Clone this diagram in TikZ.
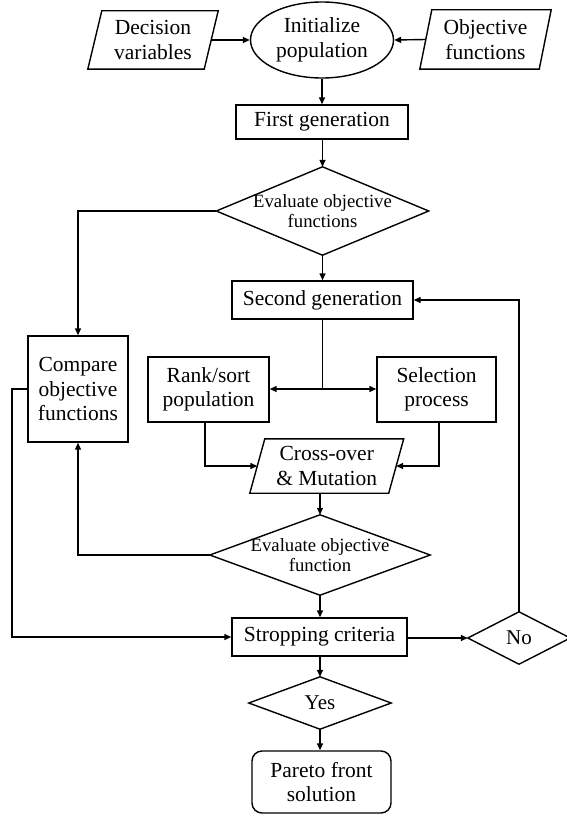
\documentclass[tikz,border=0pt]{standalone}
\usepackage{fontspec}
\setmainfont{Liberation Serif}
\usetikzlibrary{shapes.geometric,arrows.meta}
\tikzset{
  x=1pt,y=-1pt,
  line/.style={line width=1.4pt},
  arr/.style={line width=1.4pt,-{Triangle[length=7pt,width=6pt]}},
  boxtxt/.style={font=\fontsize{21.5}{24.5}\selectfont,align=center,inner sep=0pt},
  rectbox/.style={boxtxt,draw,line width=1.4pt,rectangle},
  plain/.style={boxtxt},
  diatxt/.style={font=\fontsize{18.7}{19.5}\selectfont,align=center,inner sep=0pt,rectangle},
  yntxt/.style={font=\fontsize{21}{22}\selectfont,align=center,inner sep=0pt,rectangle},
}
\begin{document}
\begin{tikzpicture}
\useasboundingbox (0,0) rectangle (566,816);
% nodes
\node[plain,minimum width=116pt,minimum height=58pt] (dv) at (153,40) {Decision\\variables};
\node[boxtxt,draw,line width=1.4pt,ellipse,minimum width=143pt,minimum height=76pt] (ip) at (322,40) {Initialize\\population};
\node[plain,minimum width=119pt,minimum height=59pt] (of) at (485.5,39.5) {Objective\\functions};
\node[rectbox,minimum width=172pt,minimum height=34pt] (fg) at (322,122) {First generation};
\node[diatxt,minimum width=212pt,minimum height=88pt] (ev1) at (322.5,211) {Evaluate objective\\functions};
\node[rectbox,minimum width=181pt,minimum height=38pt] (sg) at (322.5,300) {Second generation};
\node[rectbox,minimum width=100pt,minimum height=106pt] (cmp) at (78,389) {Compare\\objective\\functions};
\node[rectbox,minimum width=121pt,minimum height=65pt] (rk) at (208.5,389.5) {Rank/sort\\population};
\node[rectbox,minimum width=119pt,minimum height=65pt] (sel) at (436.5,389.5) {Selection\\process};
\node[plain,minimum width=138.5pt,minimum height=54pt] (co) at (326.75,466) {Cross-over\\\& Mutation};
\node[diatxt,minimum width=220pt,minimum height=80pt] (ev2) at (320,555) {Evaluate objective\\function};
\node[rectbox,minimum width=175pt,minimum height=38pt] (st) at (319.5,637) {Stropping criteria};
\node[yntxt,minimum width=102pt,minimum height=52pt] (no) at (519,638) {No};
\node[yntxt,minimum width=142pt,minimum height=52pt] (yes) at (320,703) {Yes};
\node[rectbox,rounded corners=10pt,minimum width=139pt,minimum height=62pt] (pf) at (321.5,782) {Pareto front\\solution};
% parallelograms
\draw[line] ([xshift=7pt]dv.north west) -- ([xshift=7pt]dv.north east) -- ([xshift=-7pt]dv.south east) -- ([xshift=-7pt]dv.south west) -- cycle;
\draw[line] ([xshift=6pt]of.north west) -- ([xshift=6pt]of.north east) -- ([xshift=-6pt]of.south east) -- ([xshift=-6pt]of.south west) -- cycle;
\draw[line] ([xshift=7.5pt]co.north west) -- ([xshift=7.5pt]co.north east) -- ([xshift=-7.5pt]co.south east) -- ([xshift=-7.5pt]co.south west) -- cycle;
% diamonds
\draw[line] (ev1.north) -- (ev1.east) -- (ev1.south) -- (ev1.west) -- cycle;
\draw[line] (ev2.north) -- (ev2.east) -- (ev2.south) -- (ev2.west) -- cycle;
\draw[line] (no.north) -- (no.east) -- (no.south) -- (no.west) -- cycle;
\draw[line] (yes.north) -- (yes.east) -- (yes.south) -- (yes.west) -- cycle;
% connectors
\draw[arr] (dv.east) -- (ip.west);
\draw[arr] (of.west) -- (ip.east);
\draw[arr] (ip.south) -- (fg.north);
\draw[arr] (fg.south -| ev1.north) -- (ev1.north);
\draw[arr] (ev1.west) -| (cmp.north);
\draw[arr] (ev1.south) -- (sg.north);
\coordinate (br) at (sg.south |- 0,389);
\draw[line] (sg.south) -- (br);
\draw[arr] (br) -- (rk.east |- br);
\draw[arr] (br) -- (sel.west |- br);
\draw[arr] ([xshift=-3.5pt]rk.south) |- (co.west);
\draw[arr] ([xshift=2.5pt]sel.south) |- (co.east);
\draw[arr] (ev2.north |- co.south) -- (ev2.north);
\draw[arr] (ev2.west) -| (cmp.south);
\draw[arr] (ev2.south) -- (ev2.south |- st.north);
\coordinate (lft) at (12,389);
\draw[arr] (cmp.west) -- (lft) |- (st.west);
\draw[arr] (st.east |- no.west) -- (no.west);
\draw[arr] (no.north) |- (sg.east);
\draw[arr] (yes.north |- st.south) -- (yes.north);
\draw[arr] (yes.south) -- (yes.south |- pf.north);
\end{tikzpicture}
\end{document}
